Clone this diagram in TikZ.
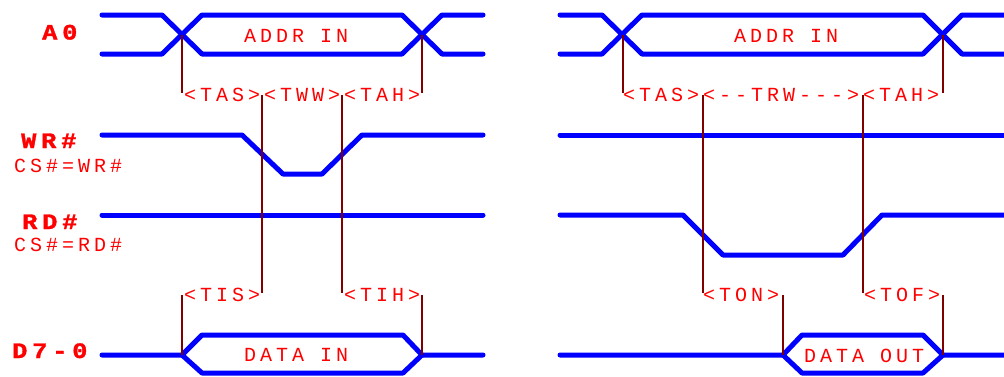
\documentclass[tikz,border=0pt]{standalone}
\usepackage{fontspec}
\newfontfamily\labfont[LetterSpace=20]{Liberation Mono}
\newfontfamily\boldfont[LetterSpace=22,FakeStretch=1.15,FakeBold=1.5]{Liberation Mono Bold}
\definecolor{sigblue}{RGB}{0,0,255}
\definecolor{txtred}{RGB}{255,0,0}
\definecolor{tickbrown}{RGB}{128,0,0}
\begin{document}
\begin{tikzpicture}[x=1pt,y=-1pt,
  sig/.style={draw=sigblue,line width=5pt,line cap=round,line join=round},
  tick/.style={draw=tickbrown,line width=2pt},
  lab/.style={text=txtred,inner sep=0pt,anchor=base west,font=\labfont\fontsize{20}{20}\selectfont},
  blab/.style={text=txtred,inner sep=0pt,anchor=base west,font=\boldfont\fontsize{22}{22}\selectfont}]
\useasboundingbox (0,0) rectangle (1004,376);
\fill[white] (0,0) rectangle (1004,376);
% ---------- left panel ----------
% A0
\draw[sig] (102,15)--(162,15)--(202,54)--(402,54)--(442,15)--(483,15);
\draw[sig] (102,54)--(162,54)--(202,15)--(402,15)--(442,54)--(483,54);
% WR#
\draw[sig] (102,135)--(242,135)--(283,174)--(322,174)--(362,135)--(483,135);
% RD#
\draw[sig] (102,215)--(483,215);
% D7-0
\draw[sig] (102,355)--(182,355)--(202,335)--(403,335)--(422,355)--(483,355);
\draw[sig] (182,355)--(202,373)--(403,373)--(422,355);
% ---------- right panel ----------
\draw[sig] (560,15)--(602,15)--(642,54)--(923,54)--(962,15)--(1008,15);
\draw[sig] (560,54)--(602,54)--(642,15)--(923,15)--(962,54)--(1008,54);
\draw[sig] (560,135)--(1008,135);
\draw[sig] (560,215)--(683,215)--(723,255)--(843,255)--(882,215)--(1008,215);
\draw[sig] (560,355)--(783,355)--(802,335)--(923,335)--(943,355)--(1008,355);
\draw[sig] (783,355)--(802,373)--(923,373)--(943,355);
% ---------- ticks ----------
\draw[tick] (182,35)--(182,93);
\draw[tick] (422,35)--(422,93);
\draw[tick] (262,95)--(262,293);
\draw[tick] (342,95)--(342,293);
\draw[tick] (182,295)--(182,355);
\draw[tick] (422,295)--(422,355);
\draw[tick] (623,35)--(623,93);
\draw[tick] (943,35)--(943,93);
\draw[tick] (703,95)--(703,293);
\draw[tick] (863,95)--(863,293);
\draw[tick] (783,295)--(783,355);
\draw[tick] (943,295)--(943,355);
% ---------- labels ----------
\node[blab] (la0) at (42,39.5) {A0};
\node[blab] (lwr) at (21,148) {WR\#};
\node[lab] (lcsw) at (14,172) {CS\#=WR\#};
\node[blab] (lrd) at (22,229) {RD\#};
\node[lab] (lcsr) at (14,251) {CS\#=RD\#};
\node[blab] (ld) at (12,358) {D7-0};
\node[lab] (addrl) at (244,42.5) {ADDR IN};
\node[lab] (addrr) at (734,42.5) {ADDR IN};
\node[lab] (tl) at (184,101.5) {<TAS><TWW><TAH>};
\node[lab] (tr) at (623,101.5) {<TAS><-{}-TRW-{}-{}-><TAH>};
\node[lab] (tis) at (184,301.7) {<TIS>};
\node[lab] (tih) at (344,301.7) {<TIH>};
\node[lab] (ton) at (703,301.7) {<TON>};
\node[lab] (tof) at (864,301.7) {<TOF>};
\node[lab] (din) at (244,361.7) {DATA IN};
\node[lab] (dout) at (804,362) {DATA OUT};
\end{tikzpicture}
\end{document}
